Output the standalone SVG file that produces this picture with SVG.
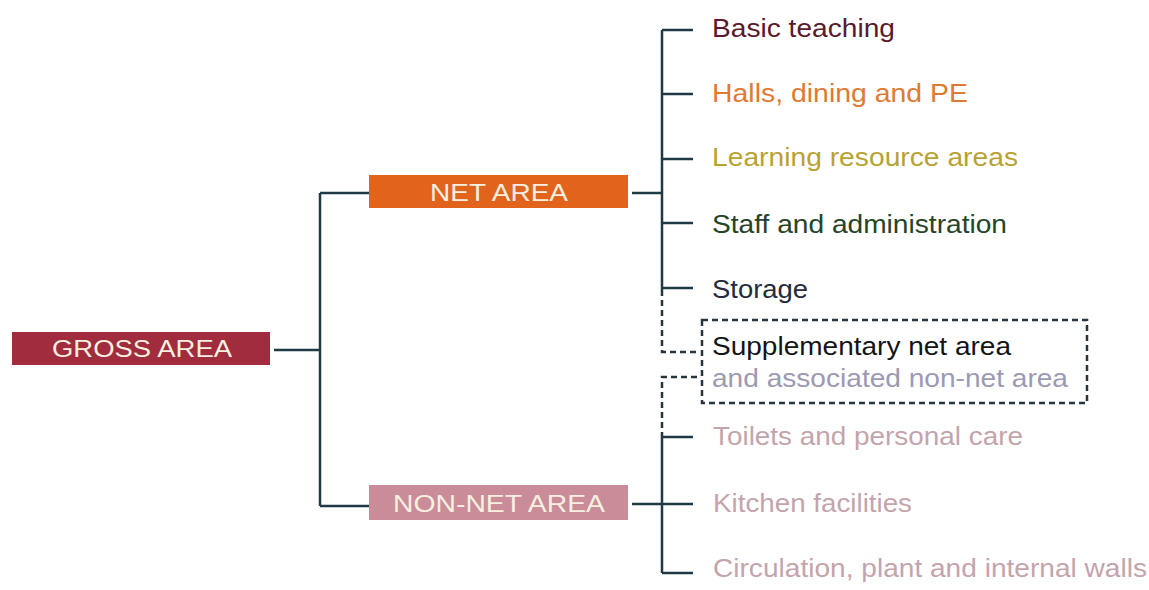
<svg xmlns="http://www.w3.org/2000/svg" width="1149" height="590" viewBox="0 0 1149 590">
<style>
.ln{stroke:#1f3a45;stroke-width:2.5;fill:none}
.dl{stroke:#26343e;stroke-width:2.5;fill:none;stroke-dasharray:6,4}
.bx{font-family:"Liberation Sans",Arial,sans-serif;font-size:23px;fill:#f7efe0;text-anchor:middle}
.t{font-family:"Liberation Sans",Arial,sans-serif;font-size:25px}
</style>
<rect width="1149" height="590" fill="#ffffff"/>
<g id="connectors">
<path class="ln" d="M274 350H320M320 193V506M320 193H369M320 506H369"/>
<path class="ln" d="M632 193H662M662 30V290M662 30H693M662 94H693M662 159H693M662 223H693M662 288H693"/>
<path class="dl" d="M662 290V352H697M697 377H662V437"/>
<path class="ln" d="M632 504H693M662 437V573M662 437H693M662 573H693"/>
</g>
<g id="gross"><rect x="12" y="332" width="258" height="33" fill="#a02c3e"/><text class="bx" x="142" y="357" textLength="180" lengthAdjust="spacingAndGlyphs">GROSS AREA</text></g>
<g id="net"><rect x="369" y="175" width="259" height="33" fill="#e2631c"/><text class="bx" x="499" y="201" textLength="138" lengthAdjust="spacingAndGlyphs">NET AREA</text></g>
<g id="nonnet"><rect x="369" y="485" width="259" height="35" fill="#c98c98"/><text class="bx" x="499" y="512" textLength="212" lengthAdjust="spacingAndGlyphs">NON-NET AREA</text></g>
<g id="basic"><text class="t" x="712" y="37" fill="#5a1a2c" textLength="183" lengthAdjust="spacingAndGlyphs">Basic teaching</text></g>
<g id="halls"><text class="t" x="712" y="102" fill="#e07a32" textLength="256" lengthAdjust="spacingAndGlyphs">Halls, dining and PE</text></g>
<g id="learning"><text class="t" x="712" y="166" fill="#b9a233" textLength="306" lengthAdjust="spacingAndGlyphs">Learning resource areas</text></g>
<g id="staff"><text class="t" x="712" y="233" fill="#254428" textLength="295" lengthAdjust="spacingAndGlyphs">Staff and administration</text></g>
<g id="storage"><text class="t" x="712" y="298" fill="#262a3e" textLength="96" lengthAdjust="spacingAndGlyphs">Storage</text></g>
<g id="supplementary">
<rect class="dl" x="702" y="320" width="385" height="83"/>
<text class="t" x="712" y="355" fill="#141414" textLength="299" lengthAdjust="spacingAndGlyphs">Supplementary net area</text>
<text class="t" x="712" y="387" fill="#9c9ab2" textLength="356" lengthAdjust="spacingAndGlyphs">and associated non-net area</text>
</g>
<g id="toilets"><text class="t" x="713" y="445" fill="#c4a4ac" textLength="310" lengthAdjust="spacingAndGlyphs">Toilets and personal care</text></g>
<g id="kitchen"><text class="t" x="713" y="512" fill="#c4a4ac" textLength="199" lengthAdjust="spacingAndGlyphs">Kitchen facilities</text></g>
<g id="circulation"><text class="t" x="713" y="577" fill="#c4a4ac" textLength="434" lengthAdjust="spacingAndGlyphs">Circulation, plant and internal walls</text></g>
</svg>
